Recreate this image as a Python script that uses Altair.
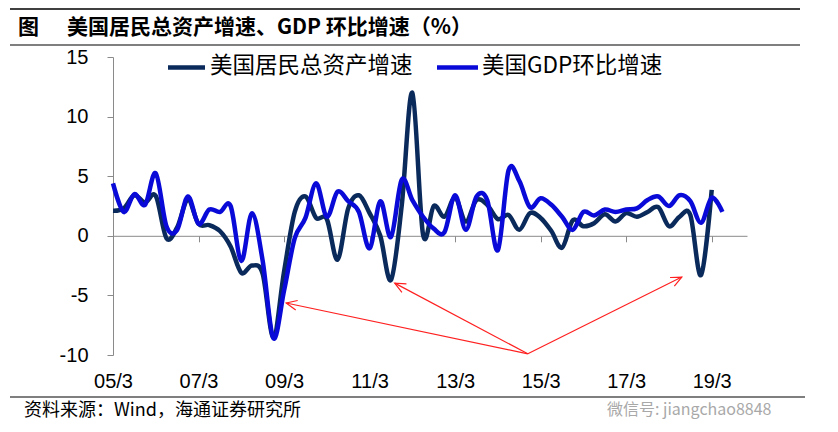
import math
import altair as alt
import pandas as pd

# ---------------- data ----------------
periods = [f"{y}Q{q}" for y in range(2005, 2020) for q in range(1, 5)][:58]

assets_growth = [2.1, 2.3, 3.4, 2.8, 3.35, -0.2, 0.7, 3.0, 1.0, 0.9,
                 0.4, -0.9, -3.1, -2.5, -3.2, -8.5, -3.0, 2.0, 3.3, 1.5,
                 1.4, -2.0, 2.3, 3.4, 1.9, 0.0, -3.7, 2.5, 12.0, 0.1,
                 2.5, 1.6, 3.2, 1.2, 3.0, 2.6, 1.4, 1.75, 0.5, 1.9,
                 1.5, 0.4, -1.0, 1.3, 0.8, 1.05, 1.8, 1.2, 1.9, 1.6,
                 2.0, 2.4, 0.8, 1.6, 1.75, -3.3, 3.85, None]

gdp_growth = [4.4, 2.0, 3.5, 2.6, 5.25, 0.8, 0.5, 3.3, 1.0, 2.2,
              2.0, 2.5, -2.1, 1.9, -2.1, -8.6, -4.6, -0.2, 1.5, 4.4,
              1.6, 3.7, 2.9, 2.0, -1.05, 2.9, -0.1, 4.7, 3.0, 1.6,
              0.6, 0.3, 3.4, 0.5, 3.3, 3.0, -1.2, 5.5, 4.6, 2.4,
              3.15, 2.6, 1.6, 0.5, 2.0, 1.7, 2.2, 2.0, 2.2, 2.3,
              3.0, 3.3, 2.5, 3.4, 2.9, 1.1, 3.2, 2.0]

tick_labels = ["05/3", "07/3", "09/3", "11/3", "13/3", "15/3", "17/3", "19/3"]
tick_index = [0, 8, 16, 24, 32, 40, 48, 56]
y_ticks = [-10, -5, 0, 5, 10, 15]

series_names = ["美国居民总资产增速", "美国GDP环比增速"]
title_text = "美国居民总资产增速、GDP 环比增速（%）"
source_text = "资料来源：Wind，海通证券研究所"
watermark_text = "微信号: jiangchao8848"

# annotation arrows (data coordinates: quarter index, percent)
arrow_from_x = 38.8
arrow_from_y = -9.9
arrow_to_x = [16.2, 26.35, 53.2]
arrow_to_y = [-5.64, -3.97, -3.46]

# ---------------- layout / style ----------------
W, H = 634, 298
X_DOM = [0, 59.3]
Y_DOM = [-10, 15]
DARK = "#0b2a5c"
BLUE = "#0a0ad8"
CJK = "Noto Sans CJK SC"
LAT = "Liberation Sans"

df_a = pd.DataFrame({"t": list(range(len(periods))), "v": assets_growth}).dropna()
df_g = pd.DataFrame({"t": list(range(len(periods))), "v": gdp_growth})

sx = W / (X_DOM[1] - X_DOM[0])
sy = H / (Y_DOM[1] - Y_DOM[0])
angles = []
for tx, ty in zip(arrow_to_x, arrow_to_y):
    dx = (tx - arrow_from_x) * sx
    dy = -(ty - arrow_from_y) * sy
    angles.append(math.degrees(math.atan2(dx, -dy)) % 360)
df_arr = pd.DataFrame({
    "x0": [arrow_from_x] * len(arrow_to_x), "y0": [arrow_from_y] * len(arrow_to_x),
    "x1": arrow_to_x, "y1": arrow_to_y, "ang": angles,
})

# x axis line sits at y = 0
zero_offset = -H * (0 - Y_DOM[0]) / (Y_DOM[1] - Y_DOM[0])

xscale = alt.Scale(domain=X_DOM, nice=False, zero=False)
yscale = alt.Scale(domain=Y_DOM, nice=False)
label_arr = "[" + ",".join(f"'{s}'" for s in tick_labels) + "]"
xaxis = alt.Axis(values=tick_index, labelExpr=f"{label_arr}[round(datum.value/8)]",
                 title=None, grid=False, offset=zero_offset,
                 domainColor="#8a8a8a", tickColor="#8a8a8a", tickSize=6,
                 labelPadding=130, labelFont=LAT, labelFontSize=20, labelColor="black",
                 labelFlush=False, labelOverlap=False)
yaxis = alt.Axis(values=y_ticks, labelExpr="'' + datum.value", title=None, grid=False,
                 domainColor="#8a8a8a", tickColor="#8a8a8a", tickSize=6,
                 labelPadding=19, labelFont=LAT, labelFontSize=20, labelColor="black")


def X(f):
    return alt.X(f, scale=xscale, axis=xaxis)


def Y(f):
    return alt.Y(f, scale=yscale, axis=yaxis)


line_a = alt.Chart(df_a).mark_line(interpolate="cardinal", strokeWidth=4.5, color=DARK).encode(
    x=X("t:Q"), y=Y("v:Q"))
line_g = alt.Chart(df_g).mark_line(interpolate="cardinal", strokeWidth=4.5, color=BLUE).encode(
    x=X("t:Q"), y=Y("v:Q"))

arrows = alt.Chart(df_arr).mark_rule(color="#ff2020", strokeWidth=1.2).encode(
    x=X("x0:Q"), y=Y("y0:Q"), x2="x1:Q", y2="y1:Q")
heads = alt.Chart(df_arr).mark_point(shape="M-0.45,1L0,0L0.45,1", filled=False,
                                     color="#ff2020", strokeWidth=1.2, size=460, opacity=1).encode(
    x=X("x1:Q"), y=Y("y1:Q"), angle=alt.Angle("ang:Q", scale=None))

one = pd.DataFrame({"k": [0]})


def hline(y, x1, x2, w=1.0, color="black"):
    return alt.Chart(one).mark_rule(color=color, strokeWidth=w).encode(
        x=alt.value(x1), x2=alt.value(x2), y=alt.value(y))


def txt(s, x, y, size, weight="normal", color="black", font=CJK, opacity=1.0):
    return alt.Chart(one).mark_text(text=s, align="left", baseline="middle", fontSize=size,
                                    fontWeight=weight, color=color, font=font,
                                    opacity=opacity).encode(x=alt.value(x), y=alt.value(y))


legend = [
    hline(10.5, 55, 92, 4.5, DARK), txt(series_names[0], 97, 9, 22.5),
    hline(10.5, 324, 365, 4.5, BLUE), txt(series_names[1], 369, 9, 22.5),
]
frame = [
    hline(-48, -103, 687, 1.5), hline(-12, -103, 687, 1.2), hline(340, -103, 692, 1.2),
    txt("图", -95, -29, 21, "bold"), txt(title_text, -46, -29, 21, "bold"),
    txt(source_text, -89, 354, 18),
    txt(watermark_text, 494, 353, 16, color="#8c8c8c", opacity=0.75),
]

chart = alt.layer(line_a, line_g, arrows, heads, *legend, *frame).properties(
    width=W, height=H,
    padding={"left": 105, "top": 49, "right": 83, "bottom": 69},
    autosize=alt.AutoSizeParams(type="none"),
    background="white",
).configure_view(stroke=None)

chart.save("out.html", embed_options={"renderer": "svg", "actions": False})
